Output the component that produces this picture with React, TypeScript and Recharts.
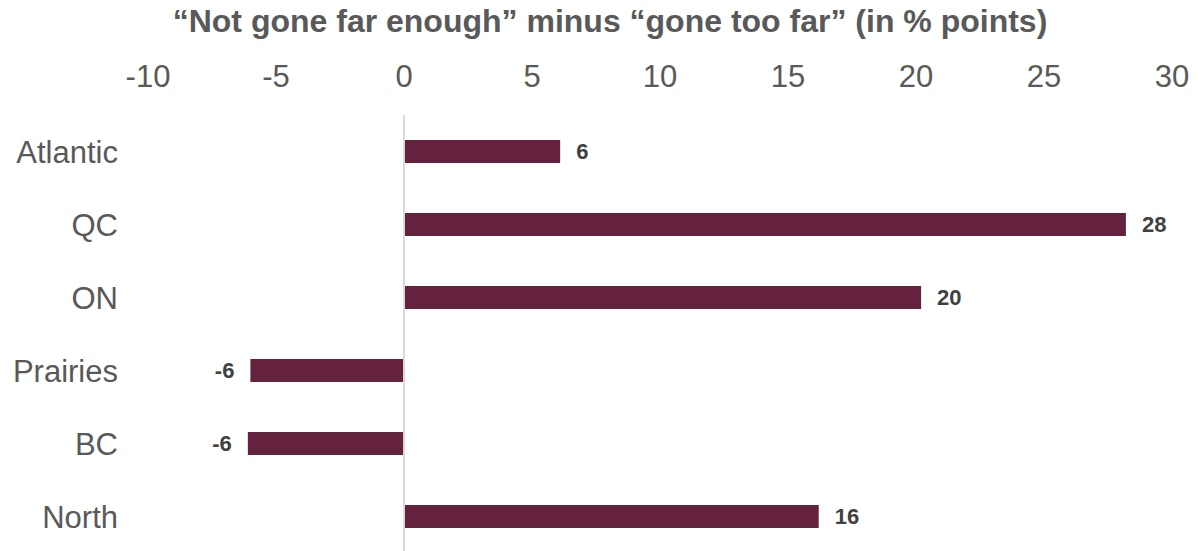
import { BarChart, Bar, XAxis, YAxis, ReferenceLine, LabelList } from 'recharts';

const regions = ['Atlantic', 'QC', 'ON', 'Prairies', 'BC', 'North'];
const netSupport = [6.1, 28.2, 20.2, -6.0, -6.1, 16.2];
const xTicks = [-10, -5, 0, 5, 10, 15, 20, 25, 30];

const TITLE = '\u201CNot gone far enough\u201D minus \u201Cgone too far\u201D (in % points)';

const data = regions.map((region, i) => ({ region, value: netSupport[i] }));

function ValueLabel(props: any) {
  const { x, y, width, height, value } = props;
  const left = Math.min(x, x + width);
  const right = Math.max(x, x + width);
  const positive = value >= 0;
  return (
    <text
      x={positive ? right + 16 : left - 16}
      y={y + height / 2}
      dy="0.355em"
      textAnchor={positive ? 'start' : 'end'}
      fontFamily="'Liberation Sans', Arial, sans-serif"
      fontSize={22}
      fontWeight="bold"
      fill="#404040"
    >
      {Math.round(value)}
    </text>
  );
}

export default function App() {
  return (
    <div style={{ position: 'absolute', left: 0, top: 0, width: 1198, height: 551, overflow: 'hidden', background: '#fff' }}>
      <div
        style={{
          position: 'absolute',
          left: 0,
          top: 5,
          width: 1220,
          textAlign: 'center',
          fontFamily: "'Liberation Sans', Arial, sans-serif",
          fontSize: 32,
          lineHeight: '32px',
          fontWeight: 'bold',
          color: '#595959',
        }}
      >
        {TITLE}
      </div>
      <BarChart
        width={1198}
        height={553}
        data={data}
        layout="vertical"
        margin={{ top: 0, right: 26, bottom: 0, left: 0 }}
      >
        <XAxis
          type="number"
          orientation="top"
          domain={[-10, 30]}
          ticks={xTicks}
          interval={0}
          height={115}
          axisLine={false}
          tickLine={false}
          tickSize={0}
          tickMargin={28}
          tick={{ fill: '#595959', fontSize: 31, fontFamily: "'Liberation Sans', Arial, sans-serif" }}
        />
        <YAxis
          type="category"
          dataKey="region"
          width={148}
          axisLine={false}
          tickLine={false}
          tickSize={0}
          tickMargin={30}
          tick={{ fill: '#595959', fontSize: 31, fontFamily: "'Liberation Sans', Arial, sans-serif" }}
        />
        <Bar dataKey="value" fill="#65223F" barSize={23} isAnimationActive={false}>
          <LabelList dataKey="value" content={ValueLabel} />
        </Bar>
        <ReferenceLine x={0} stroke="#d9d9d9" strokeWidth={2} />
      </BarChart>
    </div>
  );
}
